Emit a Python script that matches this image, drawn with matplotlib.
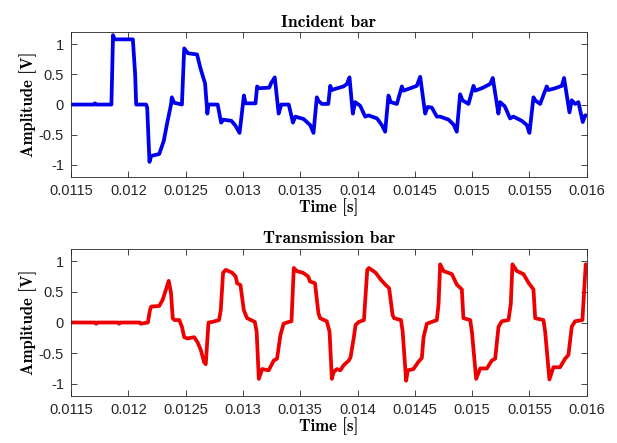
import numpy as np
import matplotlib
matplotlib.use("Agg")
import matplotlib.pyplot as plt

# Incident bar signal
t_inc = [0.0115, 0.01170, 0.01171, 0.01172, 0.011853, 0.011867, 0.01188, 0.01204, 0.01206, 0.012069,
         0.012156, 0.012165, 0.012185, 0.0122, 0.01227, 0.01231, 0.01234, 0.012373, 0.01238, 0.0124,
         0.012468, 0.012488, 0.01252, 0.01260, 0.01263, 0.01267, 0.01269, 0.01270, 0.01278, 0.01281,
         0.01283, 0.0129, 0.012935, 0.012971, 0.013009, 0.013023, 0.01311, 0.013124, 0.01314, 0.01323,
         0.013245, 0.013278, 0.013312, 0.013335, 0.0134, 0.013437, 0.013457, 0.01353, 0.013587, 0.013616,
         0.013645, 0.01366, 0.013689, 0.013745, 0.013762, 0.013776, 0.013805, 0.013878, 0.013907, 0.01393,
         0.013959, 0.013979, 0.014023, 0.014067, 0.014096, 0.01417, 0.014212, 0.014241,
         0.01427, 0.01429, 0.014343, 0.014387, 0.014401, 0.01446, 0.014517, 0.014547,
         0.01459, 0.014611, 0.014648, 0.014692, 0.014721, 0.014794, 0.014837, 0.014866,
         0.014895, 0.014916, 0.014968, 0.015012, 0.015026, 0.015084, 0.015157, 0.01518,
         0.015229, 0.015244, 0.015285, 0.015331, 0.01536, 0.015433, 0.015477, 0.0155,
         0.015535, 0.01555, 0.015593, 0.015651, 0.015666, 0.015724, 0.015782, 0.015802,
         0.015849, 0.015869, 0.015898, 0.015927, 0.015965, 0.015985, 0.016]
a_inc = [0.0, 0.0, 0.02, 0.0, 0.0, 1.15, 1.08, 1.08, 0.5, 0.0,
         0.0, -0.05, -0.95, -0.85, -0.82, -0.6, -0.3, 0.0, 0.12, 0.03,
         0.0, 0.93, 0.85, 0.83, 0.6, 0.35, -0.15, 0.0, 0.0, -0.3,
         -0.25, -0.27, -0.35, -0.47, 0.15, 0.02, 0.02, 0.3, 0.27, 0.28,
         0.35, 0.45, -0.15, 0.0, 0.0, -0.3, -0.2, -0.24, -0.34, -0.47,
         0.12, 0.06, 0.01, 0.01, 0.31, 0.24, 0.26, 0.3, 0.34, 0.45,
         -0.15, 0.04, -0.02, -0.2, -0.18, -0.23, -0.34, -0.45,
         0.15, 0.04, 0.01, 0.3, 0.23, 0.27, 0.31, 0.46,
         -0.15, -0.04, -0.05, -0.2, -0.2, -0.25, -0.33, -0.45,
         0.17, 0.07, 0.01, 0.31, 0.23, 0.27, 0.34, 0.44,
         -0.15, 0.04, -0.03, -0.23, -0.2, -0.27, -0.34, -0.47,
         0.12, 0.07, 0.01, 0.3, 0.24, 0.27, 0.31, 0.44,
         -0.13, 0.07, 0.01, 0.04, -0.29, -0.18, -0.18]

# Transmission bar signal
t_tr = [0.0115, 0.01171, 0.01172, 0.01173, 0.01191, 0.01192, 0.01193, 0.01210, 0.01211, 0.012171,
        0.012189, 0.0122, 0.01227, 0.0123, 0.012353, 0.012373, 0.012388, 0.012403, 0.012445, 0.012468,
        0.012488, 0.012517, 0.012575, 0.012604, 0.012633, 0.012662, 0.012676, 0.0127, 0.012734, 0.012792,
        0.012807, 0.012827, 0.01285, 0.012908, 0.012937, 0.01295, 0.012979, 0.013008, 0.013037, 0.013104,
        0.01312, 0.013139, 0.013168, 0.013225, 0.013269, 0.013298, 0.013327, 0.013355, 0.0134, 0.013424,
        0.013444, 0.01347, 0.013526, 0.01357, 0.013585, 0.013629, 0.013659, 0.013674, 0.013732, 0.013756,
        0.013776, 0.013791, 0.01382, 0.01385, 0.013878, 0.013924, 0.013939, 0.013968, 0.013983, 0.014012,
        0.014056, 0.014085, 0.0141, 0.014159, 0.014203, 0.014247, 0.014276, 0.014306, 0.01432, 0.014379,
        0.014394, 0.014424, 0.014439, 0.014488, 0.014532, 0.014561, 0.014576, 0.014605, 0.014692, 0.014707,
        0.014721, 0.01475, 0.014823, 0.014866, 0.01491, 0.014924, 0.014983, 0.014998, 0.015035, 0.01507,
        0.015128, 0.015172, 0.015201, 0.01523, 0.015259, 0.015317, 0.015337, 0.015352, 0.01539, 0.015448,
        0.015491, 0.015535, 0.01555, 0.015622, 0.015637, 0.015674, 0.015709, 0.015767, 0.015811, 0.01584,
        0.015869, 0.015898, 0.015962, 0.015991, 0.016]
a_tr = [0.0, 0.0, -0.02, 0.0, 0.0, -0.02, 0.0, 0.0, -0.02, 0.0,
        0.2, 0.26, 0.27, 0.37, 0.68, 0.48, 0.07, 0.04, 0.04, -0.07,
        -0.24, -0.26, -0.24, -0.32, -0.45, -0.65, -0.68, 0.0, 0.01, 0.04,
        0.2, 0.81, 0.86, 0.81, 0.75, 0.64, 0.61, 0.2, 0.07, 0.01,
        -0.15, -0.92, -0.76, -0.78, -0.62, -0.59, -0.21, -0.02, 0.01, 0.02,
        0.89, 0.84, 0.81, 0.75, 0.67, 0.64, 0.15, 0.07, 0.02, -0.15,
        -0.92, -0.81, -0.76, -0.78, -0.70, -0.62, -0.57, -0.24, -0.04, 0.01,
        0.04, 0.86, 0.89, 0.81, 0.70, 0.61, 0.56, 0.12, 0.07, 0.04,
        -0.15, -0.95, -0.78, -0.76, -0.64, -0.58, -0.24, -0.02, 0.04, 0.3,
        0.95, 0.84, 0.79, 0.62, 0.54, 0.07, 0.04, -0.15, -0.92, -0.75,
        -0.75, -0.62, -0.59, -0.07, 0.02, 0.04, 0.3, 0.95, 0.84, 0.79,
        0.65, 0.54, 0.07, 0.04, -0.15, -0.93, -0.73, -0.73, -0.59, -0.53,
        -0.07, 0.02, 0.04, 0.95, 0.81]

xticks = [0.0115, 0.012, 0.0125, 0.013, 0.0135, 0.014, 0.0145, 0.015, 0.0155, 0.016]
xticklabels = ["0.0115", "0.012", "0.0125", "0.013", "0.0135", "0.014", "0.0145", "0.015", "0.0155", "0.016"]
yticks = [-1, -0.5, 0, 0.5, 1]
yticklabels = ["-1", "-0.5", "0", "0.5", "1"]

fig = plt.figure(figsize=(6.17, 4.43), dpi=100)
ax1 = fig.add_axes([0.115, 0.6005, 0.836, 0.327])
ax2 = fig.add_axes([0.115, 0.106, 0.836, 0.332])

axcol = (0.15, 0.15, 0.15)
for ax, t, a, col, title in [(ax1, t_inc, a_inc, "#0000ee", "Incident bar"),
                             (ax2, t_tr, a_tr, "#ee0000", "Transmission bar")]:
    ax.plot(t, a, color=col, linewidth=2.7, solid_joinstyle="round")
    ax.set_xlim(0.0115, 0.016)
    ax.set_ylim(-1.2, 1.2)
    ax.set_xticks(xticks)
    ax.set_xticklabels(xticklabels, fontfamily="Liberation Sans", fontsize=10.5, color=axcol)
    ax.set_yticks(yticks)
    ax.set_yticklabels(yticklabels, fontfamily="Liberation Sans", fontsize=10.5, color=axcol)
    ax.tick_params(direction="in", top=True, right=True, length=4, width=0.6, color=axcol, pad=5)
    for s in ax.spines.values():
        s.set_color(axcol)
        s.set_linewidth(0.6)
    ax.set_title(title, fontfamily="cmb10", fontsize=12.5, pad=4)
    ax.set_xlabel("Time [s]", fontfamily="cmb10", fontsize=12, labelpad=0)
    ax.set_ylabel("Amplitude [V]", fontfamily="cmb10", fontsize=12, labelpad=1)

fig.savefig("out.png", dpi=100)
